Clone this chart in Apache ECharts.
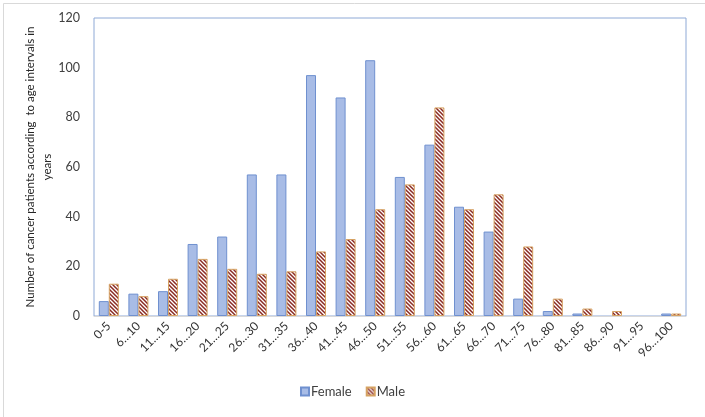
<!DOCTYPE html>
<html>
<head>
<meta charset="utf-8">
<script src="https://cdn.jsdelivr.net/npm/echarts@6/dist/echarts.min.js"></script>
<style>
html,body{margin:0;padding:0;background:#fff;}
#main{width:705px;height:417px;}
</style>
</head>
<body>
<div id="main"></div>
<script>
const categories = ['0-5','6…10','11…15','16…20','21…25','26…30','31…35','36…40','41…45','46…50','51…55','56…60','61…65','66…70','71…75','76…80','81…85','86…90','91…95','96…100'];
const femaleValues = [6, 9, 10, 29, 32, 57, 57, 97, 88, 103, 56, 69, 44, 34, 7, 2, 1, 0, 0, 1];
const maleValues = [13, 8, 15, 23, 19, 17, 18, 26, 31, 43, 53, 84, 43, 49, 28, 7, 3, 2, 0, 1];
const yTicks = [0, 20, 40, 60, 80, 100, 120];
const yAxisTitle = 'Number of cancer patients according  to age intervals in\nyears';

function hatch() {
  const c = document.createElement('canvas');
  c.width = 4; c.height = 4;
  const g = c.getContext('2d');
  g.fillStyle = '#ffffff';
  g.fillRect(0, 0, 4, 4);
  g.strokeStyle = '#8a2a22';
  g.lineWidth = 1.5;
  g.beginPath();
  g.moveTo(-1, -1); g.lineTo(5, 5);
  g.moveTo(-1, 3); g.lineTo(1, 5);
  g.moveTo(3, -1); g.lineTo(5, 1);
  g.stroke();
  return c;
}
const hatchFill = { image: hatch(), repeat: 'repeat' };
const noZero = arr => arr.map(v => (v === 0 ? null : v));

const chart = echarts.init(document.getElementById('main'), null, { renderer: 'canvas' });
const font = 'Lato, "Open Sans", sans-serif';
chart.setOption({
  animation: false,
  backgroundColor: '#ffffff',
  textStyle: { fontFamily: font },
  graphic: [{
    type: 'rect', left: 1, top: 1,
    shape: { width: 702, height: 414 },
    style: { fill: 'none', stroke: '#d9d9d9', lineWidth: 1 },
    z: -1
  }],
  grid: {
    left: 94, right: 19, top: 18, bottom: 101,
    show: true, borderColor: '#8ea9d6', borderWidth: 1, backgroundColor: 'transparent'
  },
  legend: {
    bottom: 14, left: 'center',
    itemWidth: 8, itemHeight: 8, itemGap: 14,
    textStyle: { fontFamily: font, fontSize: 13, color: '#404040', padding: [0, 0, 0, -3] },
    data: [
      { name: 'Female', icon: 'rect' },
      { name: 'Male', icon: 'rect' }
    ]
  },
  xAxis: {
    type: 'category', data: categories,
    axisLine: { show: true, lineStyle: { color: '#d9d9d9', width: 1 } },
    axisTick: { show: false },
    axisLabel: { rotate: 45, interval: 0, margin: 8, fontSize: 12, color: '#333333', fontFamily: font }
  },
  yAxis: {
    type: 'value', min: 0, max: 120, interval: 20,
    name: yAxisTitle, nameLocation: 'middle', nameGap: 38, nameRotate: 90,
    nameMoveOverlap: false,
    nameTextStyle: { fontSize: 11.5, color: '#262626', fontFamily: font, lineHeight: 17, align: 'center' },
    axisLine: { show: false }, axisTick: { show: false },
    splitLine: { show: false },
    axisLabel: {
      margin: 14, fontSize: 12.5, color: '#404040', fontFamily: font,
      formatter: v => yTicks.includes(v) ? String(v) : ''
    }
  },
  series: [
    {
      name: 'Female', type: 'bar', data: noZero(femaleValues),
      barWidth: 10, barGap: '0%',
      itemStyle: { color: '#a8bce6', borderColor: '#6f90cf', borderWidth: 1 }
    },
    {
      name: 'Male', type: 'bar', data: noZero(maleValues),
      barWidth: 10, barGap: '0%',
      itemStyle: { color: hatchFill, borderColor: '#d6a262', borderWidth: 1 }
    }
  ]
});
</script>
</body>
</html>
